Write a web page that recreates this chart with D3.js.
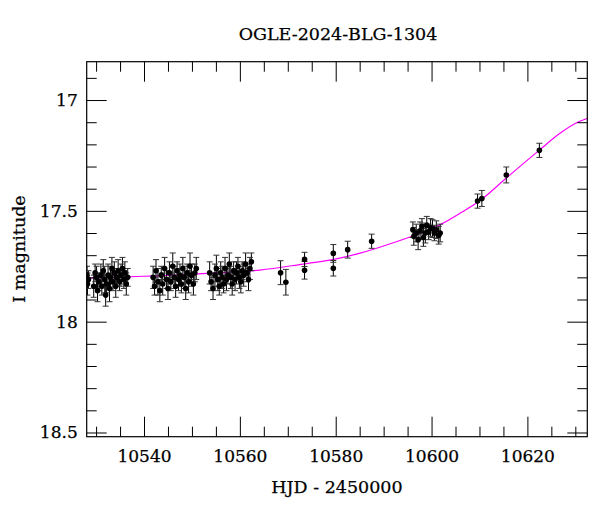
<!DOCTYPE html>
<html>
<head>
<meta charset="utf-8">
<script src="https://cdn.jsdelivr.net/npm/d3@7"></script>
<style>
  html, body { margin: 0; padding: 0; background: #fff; }
  svg { display: block; }
  text { font-family: "DejaVu Serif", "Liberation Serif", serif; fill: #000; stroke: #000; stroke-width: 0.25px; }
</style>
</head>
<body>
<svg id="chart" width="600" height="512"></svg>
<script>
// ---- Data ----
const title = "OGLE-2024-BLG-1304";
const xLabel = "HJD - 2450000";
const yLabel = "I magnitude";

const hjd = [
  10528.1, 10528.2, 10528.4, 10529.5, 10529.8, 10530.1, 10530.3, 10530.6, 10531.0, 10531.2,
  10531.5, 10531.8, 10532.0, 10532.2, 10532.5, 10532.8, 10533.0, 10533.3, 10533.5, 10533.8,
  10534.1, 10534.3, 10534.6, 10534.9, 10535.2, 10535.5, 10535.8, 10536.0, 10536.3, 10536.6,
  10541.9, 10542.2, 10542.5, 10542.9, 10543.3, 10543.6, 10543.9, 10544.3, 10544.7, 10545.0,
  10545.3, 10545.6, 10546.0, 10546.3, 10546.6, 10546.9, 10547.2, 10547.5, 10547.8, 10548.1,
  10548.4, 10548.7, 10549.0, 10549.3, 10549.6, 10549.9, 10550.3, 10550.6, 10550.9,
  10553.7, 10554.0, 10554.4, 10554.8, 10555.1, 10555.4, 10555.7, 10556.0, 10556.3, 10556.6,
  10556.9, 10557.2, 10557.5, 10557.8, 10558.1, 10558.4, 10558.7, 10559.0, 10559.3, 10559.6,
  10559.9, 10560.2, 10560.5, 10560.8, 10561.2, 10561.5, 10561.8, 10562.1, 10562.4,
  10568.5, 10569.6, 10573.5, 10573.5, 10579.5, 10579.5, 10582.5, 10587.5,
  10596.1, 10596.3, 10596.8, 10597.2, 10597.6, 10598.0, 10598.3, 10598.7, 10599.0, 10599.4,
  10599.8, 10600.2, 10600.6, 10601.0, 10601.5, 10601.8,
  10609.6, 10610.5, 10615.6, 10622.5
];
const mag = [
  17.79, 17.83, 17.81, 17.84, 17.78, 17.80, 17.86, 17.82, 17.79, 17.84,
  17.77, 17.81, 17.88, 17.83, 17.79, 17.85, 17.80, 17.76, 17.82, 17.78,
  17.84, 17.80, 17.77, 17.82, 17.79, 17.76, 17.81, 17.78, 17.83, 17.80,
  17.80, 17.84, 17.77, 17.82, 17.86, 17.79, 17.83, 17.76, 17.81, 17.85,
  17.78, 17.82, 17.75, 17.80, 17.84, 17.77, 17.81, 17.79, 17.83, 17.76,
  17.80, 17.85, 17.78, 17.82, 17.75, 17.79, 17.83, 17.78, 17.76,
  17.78, 17.82, 17.85, 17.79, 17.76, 17.81, 17.84, 17.78, 17.80, 17.83,
  17.76, 17.81, 17.79, 17.74, 17.80, 17.83, 17.77, 17.81, 17.78, 17.75,
  17.80, 17.82, 17.77, 17.79, 17.74, 17.78, 17.81, 17.76, 17.73,
  17.779, 17.822, 17.719, 17.768, 17.692, 17.759, 17.675, 17.637,
  17.585, 17.615, 17.600, 17.630, 17.590, 17.570, 17.620, 17.600, 17.565, 17.595,
  17.575, 17.580, 17.600, 17.585, 17.610, 17.600,
  17.456, 17.444, 17.338, 17.227
];
const magErr = [
  0.04, 0.05, 0.04, 0.05, 0.04, 0.05, 0.05, 0.04, 0.05, 0.04,
  0.05, 0.06, 0.05, 0.04, 0.05, 0.06, 0.05, 0.05, 0.04, 0.05,
  0.05, 0.04, 0.05, 0.04, 0.05, 0.05, 0.04, 0.05, 0.05, 0.04,
  0.05, 0.04, 0.05, 0.06, 0.05, 0.04, 0.05, 0.05, 0.04, 0.05,
  0.05, 0.04, 0.06, 0.05, 0.05, 0.04, 0.05, 0.05, 0.04, 0.05,
  0.05, 0.05, 0.04, 0.05, 0.06, 0.05, 0.05, 0.04, 0.05,
  0.05, 0.04, 0.05, 0.05, 0.06, 0.05, 0.04, 0.05, 0.05, 0.04,
  0.05, 0.05, 0.04, 0.05, 0.05, 0.05, 0.04, 0.05, 0.05, 0.04,
  0.05, 0.05, 0.04, 0.05, 0.05, 0.04, 0.05, 0.05, 0.04,
  0.054, 0.058, 0.032, 0.040, 0.040, 0.035, 0.038, 0.032,
  0.035, 0.040, 0.040, 0.045, 0.040, 0.035, 0.040, 0.045, 0.040, 0.035,
  0.040, 0.040, 0.035, 0.040, 0.040, 0.040,
  0.032, 0.036, 0.036, 0.032
];

// model curve
const modelHjd = [10528.0, 10540.0, 10547.5, 10555.0, 10564.2, 10573.2, 10578.8, 10585.1, 10592.0,
                  10597.6, 10601.8, 10606.0, 10610.2, 10615.6, 10622.5, 10626.8, 10630.7, 10632.6];
const modelMag = [17.804, 17.795, 17.789, 17.780, 17.767, 17.740, 17.722, 17.691, 17.644,
                  17.601, 17.562, 17.510, 17.452, 17.352, 17.226, 17.150, 17.098, 17.082];

const xMajorTicks = [10540, 10560, 10580, 10600, 10620];
const yMajorTicks = [17, 17.5, 18, 18.5];
const yTickLabels = ["17", "17.5", "18", "18.5"];

// ---- Layout ----
const svg = d3.select("#chart");
const L = 86.7, R = 587.3, T = 61.7, B = 436.7;
const x = d3.scaleLinear().domain([10528.04, 10632.5]).range([L, R]);
const y = d3.scaleLinear().domain([16.827, 18.519]).range([T, B]);

const points = hjd.map((h, i) => ({ h, m: mag[i], e: magErr[i] }));

svg.append("clipPath").attr("id", "clip").append("rect")
  .attr("x", L).attr("y", T).attr("width", R - L).attr("height", B - T);

// model curve
const model = modelHjd.map((h, i) => ({ h, m: modelMag[i] }));
svg.append("path")
  .datum(model)
  .attr("clip-path", "url(#clip)")
  .attr("fill", "none")
  .attr("stroke", "#ff00ff")
  .attr("stroke-width", 1.2)
  .attr("d", d3.line().x(d => x(d.h)).y(d => y(d.m)).curve(d3.curveMonotoneX));

// error bars
const eb = svg.append("g").attr("clip-path", "url(#clip)");
const capW = 3;
eb.selectAll("line.v").data(points).join("line")
  .attr("x1", d => x(d.h)).attr("x2", d => x(d.h))
  .attr("y1", d => y(d.m - d.e)).attr("y2", d => y(d.m + d.e))
  .attr("stroke", "#000").attr("stroke-width", 1);
eb.selectAll("line.ct").data(points).join("line")
  .attr("x1", d => x(d.h) - capW).attr("x2", d => x(d.h) + capW)
  .attr("y1", d => y(d.m - d.e)).attr("y2", d => y(d.m - d.e))
  .attr("stroke", "#333").attr("stroke-width", 1);
eb.selectAll("line.cb").data(points).join("line")
  .attr("x1", d => x(d.h) - capW).attr("x2", d => x(d.h) + capW)
  .attr("y1", d => y(d.m + d.e)).attr("y2", d => y(d.m + d.e))
  .attr("stroke", "#333").attr("stroke-width", 1);

// points
svg.append("g").attr("clip-path", "url(#clip)")
  .selectAll("circle").data(points).join("circle")
  .attr("cx", d => x(d.h)).attr("cy", d => y(d.m)).attr("r", 2.8)
  .attr("fill", "#000");

// axes with inward ticks on all sides
const xMinor = d3.range(10530, 10633, 5).filter(v => !xMajorTicks.includes(v));
const yMinor = d3.range(169, 186).map(v => v / 10).filter(v => !yMajorTicks.includes(v));
const major = 20, minor = 10;

function addAxis(axisFn, scale, ticks, size, transform, labels) {
  const a = axisFn(scale).tickValues(ticks).tickSizeInner(-size).tickSizeOuter(0);
  if (labels) a.tickFormat((d, i) => labels[i]); else a.tickFormat("");
  const g = svg.append("g").attr("transform", transform).call(a);
  g.select(".domain").remove();
  g.selectAll(".tick line").attr("stroke", "#000").attr("stroke-width", 1);
  return g;
}

const gxb = addAxis(d3.axisBottom, x, xMajorTicks, major, `translate(0,${B})`, xMajorTicks.map(String));
gxb.selectAll("text").attr("font-size", 17).attr("font-family", "DejaVu Serif").attr("y", 13).attr("dy", "0.71em");
addAxis(d3.axisBottom, x, xMinor, minor, `translate(0,${B})`, null);
addAxis(d3.axisTop, x, xMajorTicks, major, `translate(0,${T})`, null);
addAxis(d3.axisTop, x, xMinor, minor, `translate(0,${T})`, null);

const gyl = addAxis(d3.axisLeft, y, yMajorTicks, major, `translate(${L},0)`, yTickLabels);
gyl.selectAll("text").attr("font-size", 17).attr("font-family", "DejaVu Serif").attr("x", -9);
addAxis(d3.axisLeft, y, yMinor, minor, `translate(${L},0)`, null);
addAxis(d3.axisRight, y, yMajorTicks, major, `translate(${R},0)`, null);
addAxis(d3.axisRight, y, yMinor, minor, `translate(${R},0)`, null);

// frame
svg.append("rect").attr("x", L).attr("y", T).attr("width", R - L).attr("height", B - T)
  .attr("fill", "none").attr("stroke", "#000").attr("stroke-width", 1.2);

// titles
svg.append("text").attr("x", 338).attr("y", 39.5).attr("text-anchor", "middle")
  .attr("font-size", 17.5).text(title);
svg.append("text").attr("x", 337).attr("y", 493).attr("text-anchor", "middle")
  .attr("font-size", 17.5).text(xLabel);
svg.append("text").attr("transform", "translate(25,249) rotate(-90)").attr("text-anchor", "middle")
  .attr("font-size", 17.5).text(yLabel);
</script>
</body>
</html>
